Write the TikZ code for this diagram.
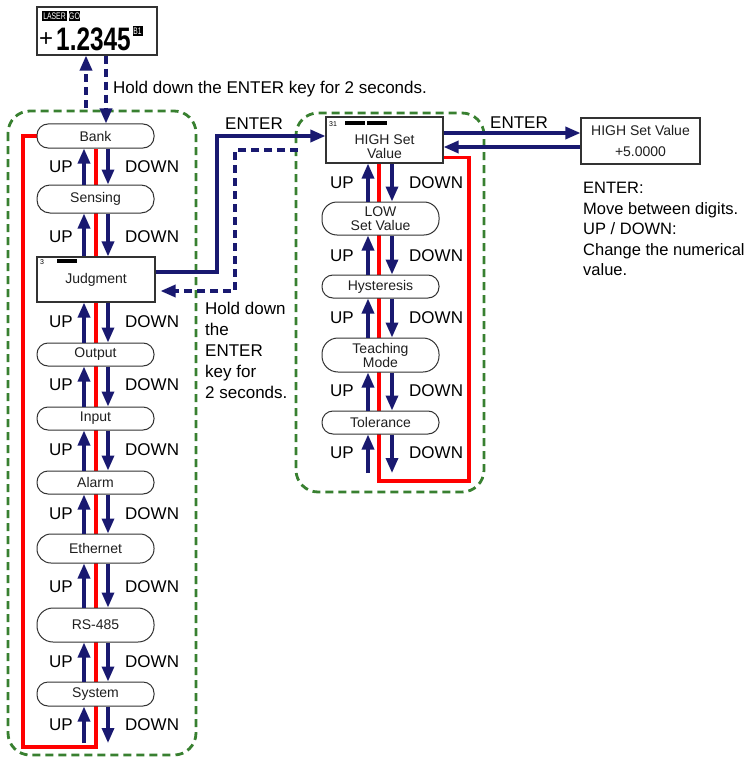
\documentclass[tikz,border=0pt]{standalone}
\usepackage{fontspec}
\setmainfont{Liberation Sans}
\usetikzlibrary{arrows.meta,backgrounds,calc}
\definecolor{navy}{RGB}{25,25,112}
\definecolor{dgreen}{RGB}{56,128,48}
\definecolor{boxgray}{RGB}{50,50,50}
\begin{document}
\begin{tikzpicture}[x=1pt,y=-1pt,
  pill/.style={draw=boxgray, line width=1pt, fill=white, minimum width=117pt, inner sep=0pt, font=\fontsize{14}{14}\selectfont, align=center, text=black!88},
  sqbox/.style={draw=boxgray, line width=1.1pt, fill=white, inner sep=0pt, font=\fontsize{14}{14}\selectfont, align=center, text=black!88},
  arr/.style={navy, line width=3.3pt, -{Triangle[length=15pt,width=12pt]}},
  darr/.style={arr, dash pattern=on 8pt off 5pt},
  redline/.style={red, line width=3.2pt},
  grnbox/.style={dgreen, line width=2.8pt, dash pattern=on 8pt off 5pt, rounded corners=22pt},
  lbl/.style={font=\fontsize{17}{17}\selectfont, inner sep=0pt, text height=12.2pt, text depth=0pt},
  tag/.style={fill=black, text=white, inner sep=0pt, minimum height=10pt, font=\fontsize{9.5}{9.5}\selectfont},
  tiny/.style={inner sep=0pt, font=\fontsize{7}{7}\selectfont},
]
\useasboundingbox (0,0) rectangle (753,757);

% green dashed groups
\draw[grnbox] (8,111) rectangle (196,755);
\draw[grnbox] (296,113) rectangle (484,492);

% LCD display
\node[sqbox, minimum width=120pt, minimum height=48pt] (lcd) at (97,31) {};
\node[tag, minimum width=25pt] (laser) at (54.5,16.5) {\scalebox{0.72}[1]{LASER}};
\node[tag, minimum width=11pt] (go) at (74.5,16.5) {\scalebox{0.75}[1]{GO}};
\node[tag, minimum width=10pt] (bone) at (137.5,31.5) {\scalebox{0.7}[1]{B1}};
\node[anchor=base west, inner sep=0pt, font=\fontsize{24}{24}\selectfont] (plus) at (39,47) {+};
\node[anchor=base west, inner sep=0pt, font=\fontsize{32.5}{32.5}\selectfont\bfseries] (num) at (56,50.5) {\scalebox{0.75}[1]{1.2345}};

\node[lbl, anchor=west] (holdtxt) at (113,87) {Hold down the ENTER key for 2 seconds.};

% left column
\node[pill, minimum height=24pt, rounded corners=11pt] (bank) at (95.5,136) {Bank};
\node[pill, minimum height=28pt, rounded corners=13pt] (sensing) at (95.5,199) {Sensing};
\node[sqbox, minimum width=118pt, minimum height=45pt] (judg) at (96,279.5) {Judgment};
\node[pill, minimum height=23pt, rounded corners=11pt] (output) at (95.5,354.5) {Output};
\node[pill, minimum height=23pt, rounded corners=11pt] (input) at (95.5,418.5) {Input};
\node[pill, minimum height=23pt, rounded corners=11pt] (alarm) at (95.5,482.5) {Alarm};
\node[pill, minimum height=29pt, rounded corners=14pt] (ethernet) at (95.5,548.5) {Ethernet};
\node[pill, minimum height=34pt, rounded corners=16pt] (rs) at (95.5,625) {RS-485};
\node[pill, minimum height=24pt, rounded corners=11pt] (system) at (95.5,694) {System};
\fill (57,259) rectangle (77,262.5);
\node[tiny] (j3) at (42,262) {3};

% right column
\node[sqbox, minimum width=117pt, minimum height=46pt] (high) at (384.5,140) {};
\node[inner sep=0pt, font=\fontsize{14}{14}\selectfont, align=center, text=black!88] (hightxt) at (384.5,146.5) {HIGH Set\\Value};
\fill (345,121.5) rectangle (365,125);
\fill (367,121.5) rectangle (387,125);
\node[tiny] (h31) at (333,124.5) {31};
\node[pill, minimum height=33pt, rounded corners=15pt] (low) at (380.5,218.5) {LOW\\Set Value};
\node[pill, minimum height=23pt, rounded corners=11pt] (hyst) at (380.5,286.5) {Hysteresis};
\node[pill, minimum height=34pt, rounded corners=16pt] (teach) at (380.5,355) {Teaching\\Mode};
\node[pill, minimum height=23pt, rounded corners=11pt] (tol) at (380.5,422.5) {Tolerance};

\node[sqbox, minimum width=119pt, minimum height=46pt, font=\fontsize{14}{21}\selectfont] (hsv) at (640.5,141) {HIGH Set Value\\+5.0000};
\node[anchor=north west, inner sep=0pt, align=left, font=\fontsize{16.5}{20.5}\selectfont] (note) at (583,182) {ENTER:\\Move between digits.\\UP / DOWN:\\Change the numerical\\value.};

% red loops
\coordinate (lredc) at (23,747);
\coordinate (lrx) at (96,0);
\coordinate (rredc) at (469,481);
\coordinate (rrx) at (379,0);
\begin{pgfonlayer}{background}
\draw[redline] (bank.west) -| (lredc) -| (bank.south -| lrx);
\draw[redline] ([yshift=6pt]high.south east) -| (rredc) -| (high.south -| rrx);
\end{pgfonlayer}

% up/down arrows
\coordinate (lux) at (84,0);
\coordinate (ldx) at (108,0);
\coordinate (rux) at (368,0);
\coordinate (rdx) at (392,0);
\foreach \a/\b in {bank/sensing, sensing/judg, judg/output, output/input, input/alarm, alarm/ethernet, ethernet/rs, rs/system}{
  \draw[arr] (\b.north -| lux) -- (\a.south -| lux);
  \draw[arr] (\a.south -| ldx) -- (\b.north -| ldx);
}
\coordinate (lbot) at (0,743);
\draw[arr] (lbot -| lux) -- (system.south -| lux);
\draw[arr] (system.south -| ldx) -- (lbot -| ldx);
\foreach \a/\b in {high/low, low/hyst, hyst/teach, teach/tol}{
  \draw[arr] (\b.north -| rux) -- (\a.south -| rux);
  \draw[arr] (\a.south -| rdx) -- (\b.north -| rdx);
}
\coordinate (rbot) at (0,473);
\draw[arr] (rbot -| rux) -- (tol.south -| rux);
\draw[arr] (tol.south -| rdx) -- (rbot -| rdx);

% UP / DOWN labels
\foreach \y [count=\i] in {166,236,321,384,449,513,586,661,724}{
  \node[lbl, anchor=east] (upl\i) at (73,\y) {UP};
  \node[lbl, anchor=west] (dnl\i) at (125,\y) {DOWN};
}
\foreach \y [count=\i] in {182,255,317,390,452}{
  \node[lbl, anchor=east] (upr\i) at (354,\y) {UP};
  \node[lbl, anchor=west] (dnr\i) at (409,\y) {DOWN};
}

% LCD <-> Bank
\coordinate (lcdup) at (86,108);
\coordinate (lcddn) at (106,0);
\draw[darr] (lcdup) -- (lcd.south -| lcdup);
\draw[darr] (lcd.south -| lcddn) -- (bank.north -| lcddn);

% Judgment <-> HIGH Set Value
\coordinate (ej) at (217,136);
\draw[arr] ([yshift=7.5pt]judg.east) -| (ej) -- (ej -| high.west);
\node[lbl] (ent1) at (254,123) {ENTER};
\coordinate (ds) at (298,150);
\coordinate (dc) at (235,150);
\coordinate (jt) at ([xshift=5pt,yshift=-11.5pt]judg.east);
\draw[darr] (ds) -- (dc) |- (jt);
\node[anchor=north west, inner sep=0pt, align=left, font=\fontsize{17}{21}\selectfont] (hold2) at (205,302) {Hold down\\the\\ENTER\\key for\\2 seconds.};

% HIGH <-> HIGH Set Value editor
\coordinate (e1) at ([yshift=7pt]high.east);
\coordinate (e2) at ([yshift=-7pt]high.east);
\draw[arr] (e1) -- (e1 -| hsv.west);
\draw[arr] (e2 -| hsv.west) -- (e2);
\node[lbl] (ent2) at (519,122) {ENTER};
\end{tikzpicture}
\end{document}
